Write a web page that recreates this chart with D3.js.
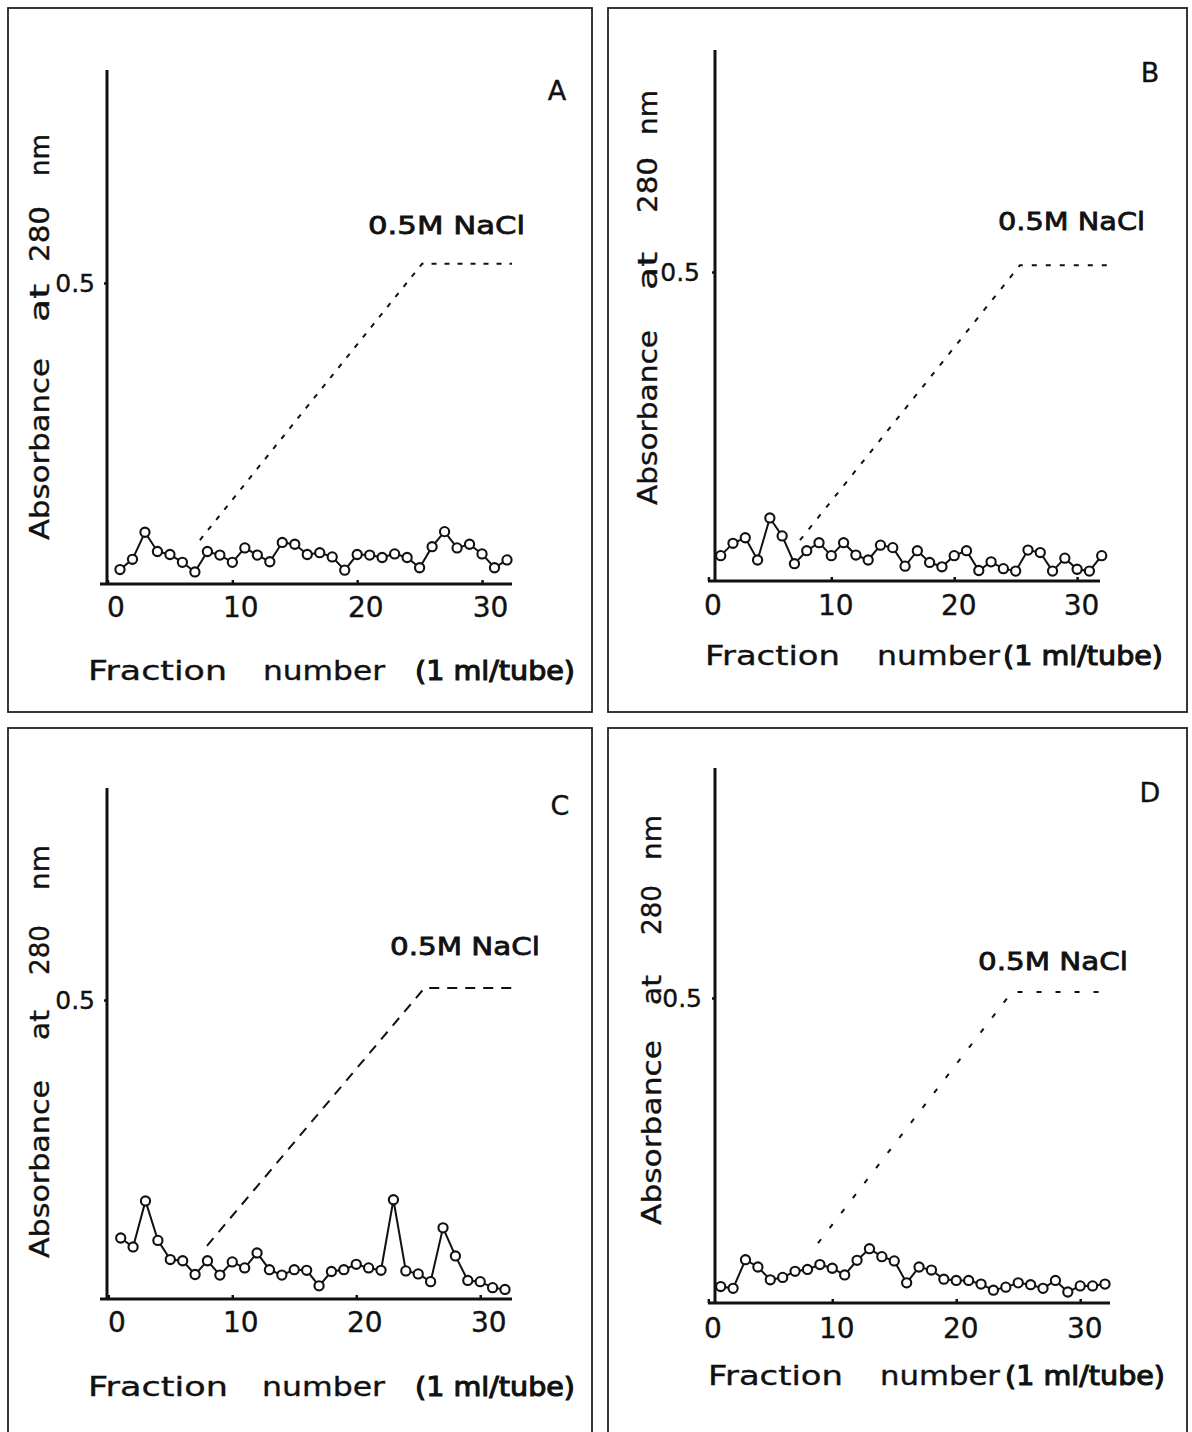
<!DOCTYPE html>
<html>
<head>
<meta charset="utf-8">
<script src="https://cdn.jsdelivr.net/npm/d3@7"></script>
<style>
  body { margin: 0; background: #fff; }
  text { font-family: "DejaVu Sans", sans-serif; fill: #111; stroke: #111; stroke-width: 0.35; }
</style>
</head>
<body>
<svg id="chart" width="1192" height="1432"></svg>
<script>
// fraction numbers (1 ml/tube), 32 tubes per run
var fractions = [1,2,3,4,5,6,7,8,9,10,11,12,13,14,15,16,17,18,19,20,21,22,23,24,25,26,27,28,29,30,31,32];

// absorbance at 280 nm
var absA = [0.024,0.041,0.086,0.054,0.049,0.036,0.020,0.054,0.048,0.036,0.060,0.048,0.037,0.069,0.066,0.049,
            0.052,0.045,0.023,0.049,0.048,0.044,0.050,0.044,0.027,0.062,0.087,0.060,0.066,0.050,0.027,0.040];
var absB = [0.041,0.061,0.070,0.034,0.102,0.073,0.028,0.049,0.062,0.041,0.062,0.042,0.034,0.058,0.054,0.024,
            0.049,0.030,0.023,0.041,0.049,0.017,0.031,0.020,0.016,0.050,0.046,0.016,0.037,0.019,0.016,0.041];
var absC = [0.102,0.087,0.164,0.098,0.066,0.064,0.041,0.064,0.040,0.062,0.052,0.077,0.049,0.040,0.049,0.048,
            0.022,0.046,0.049,0.058,0.052,0.048,0.166,0.047,0.042,0.029,0.119,0.072,0.031,0.029,0.019,0.016];
var absD = [0.027,0.024,0.071,0.059,0.038,0.042,0.052,0.055,0.063,0.057,0.046,0.070,0.089,0.076,0.069,0.033,
            0.059,0.054,0.039,0.037,0.037,0.031,0.021,0.026,0.033,0.030,0.024,0.037,0.018,0.028,0.028,0.031];

// NaCl gradient (dashed), [fraction], [level on the absorbance scale]
var gradA = [[7.4, 25.2, 32.4], [0.073, 0.532, 0.532]];
var gradB = [[7.45, 25.35, 32.5], [0.066, 0.511, 0.511]];
var gradC = [[7.96, 25.5, 32.6], [0.089, 0.52, 0.52]];
var gradD = [[8.85, 24.5, 31.6], [0.098, 0.51, 0.51]];

var xTicks = [0, 10, 20, 30];
var yTicks = [0.5];
var panelLetters = ["A", "B", "C", "D"];
var saltLabel = "0.5M NaCl";
var yTitleWords = ["Absorbance", "at", "280", "nm"];
var xTitleWords = ["Fraction", "number", "(1 ml/tube)"];

// page layout of each panel (pixels)
var layout = [
  { data: absA, grad: gradA, box: [8, 8, 592, 712], axX: 107, axTop: 70, axLeft: 100, axRight: 512,
    y0: 584, yHalf: 283, xr: [120, 507], tickDx: 8, tickBase: 617, yPad: 9, dash: "5,8",
    letter: [557, 100], salt: [368, 525, 234], yTx: 49,
    yWords: [[358, 540], [284, 322], [206, 262], [134, 176]],
    xBase: 680, xWords: [[88, 227], [263, 385], [415, 575]] },
  { data: absB, grad: gradB, box: [608, 8, 1187, 712], axX: 715, axTop: 50, axLeft: 708, axRight: 1100,
    y0: 581, yHalf: 272, xr: [720.7, 1101.7], tickDx: 4, tickBase: 615, yPad: 12, dash: "5,9",
    letter: [1150, 82], salt: [998, 1145, 230], yTx: 657,
    yWords: [[330, 505], [252, 290], [157, 213], [90, 135]],
    xBase: 665, xWords: [[705, 840], [877, 1000], [1003, 1163]] },
  { data: absC, grad: gradC, box: [8, 728, 592, 1440], axX: 107, axTop: 788, axLeft: 100, axRight: 512,
    y0: 1299, yHalf: 1000, xr: [120.7, 505], tickDx: 8, tickBase: 1332, yPad: 9, dash: "10,8",
    letter: [560, 815], salt: [390, 540, 955], yTx: 49,
    yWords: [[1080, 1258], [1010, 1040], [925, 975], [845, 890]],
    xBase: 1396, xWords: [[88, 228], [262, 385], [415, 575]] },
  { data: absD, grad: gradD, box: [608, 728, 1187, 1440], axX: 715, axTop: 768, axLeft: 708, axRight: 1110,
    y0: 1303, yHalf: 998, xr: [720.7, 1105], tickDx: 4, tickBase: 1338, yPad: 10, dash: "5,14",
    letter: [1150, 802], salt: [978, 1128, 970], yTx: 661,
    yWords: [[1040, 1225], [975, 1005], [885, 935], [815, 860]],
    xBase: 1385, xWords: [[708, 843], [880, 1000], [1005, 1165]] }
];

var svg = d3.select("#chart");

function fitText(g, str, x0, x1, base, size, weight) {
  return g.append("text")
    .attr("x", x0).attr("y", base)
    .attr("font-size", size)
    .attr("font-weight", weight || "normal")
    .attr("textLength", x1 - x0)
    .attr("lengthAdjust", "spacingAndGlyphs")
    .text(str);
}

layout.forEach(function(p, i) {
  var g = svg.append("g").attr("class", "panel");

  g.append("rect")
    .attr("x", p.box[0]).attr("y", p.box[1])
    .attr("width", p.box[2] - p.box[0]).attr("height", p.box[3] - p.box[1])
    .attr("fill", "none").attr("stroke", "#222").attr("stroke-width", 1.8);

  var x = d3.scaleLinear().domain([fractions[0], fractions[fractions.length - 1]]).range(p.xr);
  var y = d3.scaleLinear().domain([0, 0.5]).range([p.y0, p.yHalf]);

  // axis lines, drawn by hand like the original
  g.append("line").attr("x1", p.axX).attr("x2", p.axX).attr("y1", p.axTop).attr("y2", p.y0 + 1)
    .attr("stroke", "#111").attr("stroke-width", 3);
  g.append("line").attr("x1", p.axLeft).attr("x2", p.axRight).attr("y1", p.y0).attr("y2", p.y0)
    .attr("stroke", "#111").attr("stroke-width", 3);

  var xAxis = d3.axisBottom(x).tickValues(xTicks).tickSize(-4).tickPadding(0);
  var gx = g.append("g").attr("transform", "translate(0," + p.y0 + ")").call(xAxis);
  gx.select(".domain").remove();
  gx.selectAll(".tick line").attr("stroke", "#111").attr("stroke-width", 2.5);
  gx.selectAll(".tick text")
    .attr("y", p.tickBase - p.y0).attr("dy", null).attr("dx", p.tickDx)
    .attr("font-size", 28).attr("font-family", "DejaVu Sans, sans-serif").attr("fill", "#111");

  var yAxis = d3.axisLeft(y).tickValues(yTicks).tickSize(3).tickPadding(p.yPad).tickFormat(d3.format(".1f"));
  var gy = g.append("g").attr("transform", "translate(" + p.axX + ",0)").call(yAxis);
  gy.select(".domain").remove();
  gy.selectAll(".tick line").attr("stroke", "#111").attr("stroke-width", 2.5);
  gy.selectAll(".tick text")
    .attr("font-size", 25).attr("font-family", "DejaVu Sans, sans-serif").attr("fill", "#111");

  // NaCl gradient
  var gradPts = p.grad[0].map(function(f, k) { return [f, p.grad[1][k]]; });
  g.append("path")
    .datum(gradPts)
    .attr("d", d3.line().x(function(d) { return x(d[0]); }).y(function(d) { return y(d[1]); }))
    .attr("fill", "none").attr("stroke", "#111").attr("stroke-width", 2)
    .attr("stroke-dasharray", p.dash);

  // absorbance profile
  var pts = fractions.map(function(f, k) { return [f, p.data[k]]; });
  g.append("path")
    .datum(pts)
    .attr("d", d3.line().x(function(d) { return x(d[0]); }).y(function(d) { return y(d[1]); }))
    .attr("fill", "none").attr("stroke", "#111").attr("stroke-width", 2);
  g.selectAll("circle.pt")
    .data(pts)
    .enter()
    .append("circle")
    .attr("class", "pt")
    .attr("cx", function(d) { return x(d[0]); })
    .attr("cy", function(d) { return y(d[1]); })
    .attr("r", 4.6)
    .attr("fill", "#fff").attr("stroke", "#111").attr("stroke-width", 2.1);

  // panel letter
  g.append("text").attr("x", p.letter[0]).attr("y", p.letter[1])
    .attr("text-anchor", "middle").attr("font-size", 27).text(panelLetters[i]);

  // salt label
  fitText(g, saltLabel, p.salt[0], p.salt[1], p.salt[2], 25, "normal").style("stroke-width", 0.8);

  // y title, one word at a time, rotated
  yTitleWords.forEach(function(w, k) {
    var span = p.yWords[k];
    g.append("text")
      .attr("transform", "translate(" + p.yTx + "," + span[1] + ") rotate(-90)")
      .attr("font-size", 26)
      .attr("textLength", span[1] - span[0])
      .attr("lengthAdjust", "spacingAndGlyphs")
      .text(w);
  });

  // x title
  xTitleWords.forEach(function(w, k) {
    var t = fitText(g, w, p.xWords[k][0], p.xWords[k][1], p.xBase, 26, "normal");
    if (k === 2) t.style("stroke-width", 1.1);
  });
});
</script>
</body>
</html>
